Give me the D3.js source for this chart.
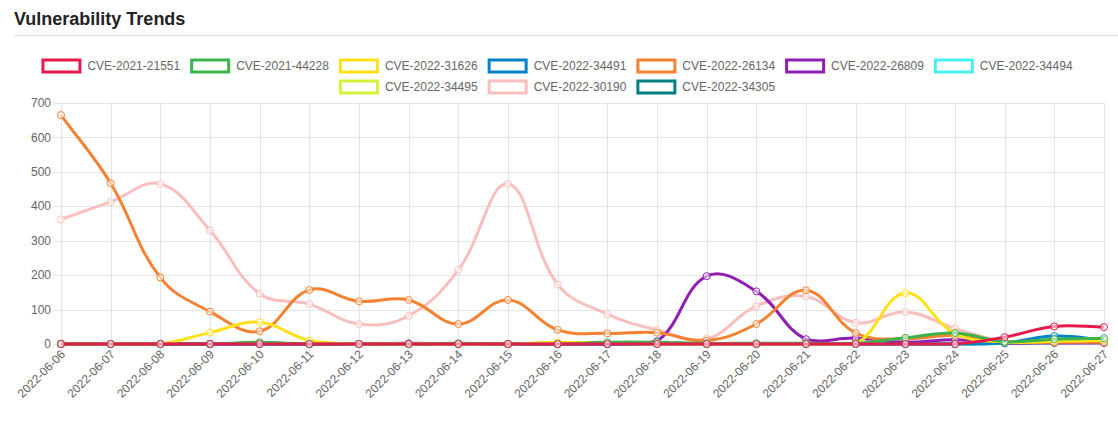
<!DOCTYPE html>
<html>
<head>
<meta charset="utf-8">
<script src="https://cdn.jsdelivr.net/npm/d3@7"></script>
<style>
html,body{margin:0;padding:0;background:#fff;}
svg{display:block;}
</style>
</head>
<body>
<svg id="chart" width="1118" height="428"></svg>
<script>
// ---- data ----
const dates = ["2022-06-06","2022-06-07","2022-06-08","2022-06-09","2022-06-10","2022-06-11","2022-06-12","2022-06-13","2022-06-14","2022-06-15","2022-06-16","2022-06-17","2022-06-18","2022-06-19","2022-06-20","2022-06-21","2022-06-22","2022-06-23","2022-06-24","2022-06-25","2022-06-26","2022-06-27"];
const seriesNames = ["CVE-2021-21551","CVE-2021-44228","CVE-2022-31626","CVE-2022-34491","CVE-2022-26134","CVE-2022-26809","CVE-2022-34494","CVE-2022-34495","CVE-2022-30190","CVE-2022-34305"];
const seriesColors = ["#e6194b","#3cb44b","#ffe119","#0082c8","#f58231","#911eb4","#46f0f0","#d2f53c","#fabebe","#008080"];
const cve_2021_21551 = [0,0,0,0,0,0,0,0,0,0,0,0,0,0,0,0,0,0,0,20,51,49];
const cve_2021_44228 = [0,0,0,0,5,0,0,0,2,0,0,5,5,2,2,2,2,18,32,7,14,17];
const cve_2022_31626 = [0,0,0,33,63,10,0,0,0,0,5,3,0,0,0,0,0,148,30,6,8,10];
const cve_2022_34491 = [0,0,0,0,0,0,0,0,0,0,0,0,0,0,0,0,0,0,0,3,23,12];
const cve_2022_26134 = [665,467,193,94,37,157,124,128,58,128,41,31,33,10,58,156,32,15,25,6,5,5];
const cve_2022_26809 = [0,0,0,0,0,0,0,2,0,0,0,0,8,197,153,14,17,5,12,3,3,3];
const cve_2022_34494 = [0,0,0,0,0,0,0,0,0,0,0,0,0,0,0,0,0,0,0,2,3,5];
const cve_2022_34495 = [0,0,0,0,0,0,0,0,0,0,0,0,0,0,0,0,0,0,0,2,4,8];
const cve_2022_30190 = [362,413,465,330,146,116,58,82,215,465,173,87,41,15,110,138,62,93,45,8,5,5];
const cve_2022_34305 = [0,0,0,0,0,0,0,0,0,0,0,0,0,0,0,0,0,0,0,2,5,10];
const seriesValues = [cve_2021_21551,cve_2021_44228,cve_2022_31626,cve_2022_34491,cve_2022_26134,cve_2022_26809,cve_2022_34494,cve_2022_34495,cve_2022_30190,cve_2022_34305];
const yTicks = [0,100,200,300,400,500,600,700];
const titleText = "Vulnerability Trends";

// ---- layout ----
const W = 1118, H = 428;
const area = {left:61, right:1104, top:103, bottom:344};
const FONT = "'Liberation Sans', Arial, Helvetica, sans-serif";
const svg = d3.select("#chart");

// title
svg.append("text").attr("x",14).attr("y",25)
  .attr("font-family",FONT).attr("font-weight","bold").attr("font-size","18px")
  .attr("fill","#222").text(titleText);
svg.append("line").attr("x1",14).attr("x2",W).attr("y1",35.5).attr("y2",35.5)
  .attr("stroke","#dedede").attr("stroke-width",1);

// scales
const x = d3.scalePoint().domain(dates).range([area.left, area.right]);
const y = d3.scaleLinear().domain([0,700]).range([area.bottom, area.top]);

// grid
const grid = svg.append("g");
grid.selectAll("line.h").data(yTicks).join("line")
  .attr("x1",area.left-8).attr("x2",area.right)
  .attr("y1",d=>Math.round(y(d))+0.5).attr("y2",d=>Math.round(y(d))+0.5)
  .attr("stroke","rgba(0,0,0,0.1)");
grid.selectAll("line.v").data(dates).join("line")
  .attr("y1",area.top).attr("y2",area.bottom+8)
  .attr("x1",d=>Math.round(x(d))+0.5).attr("x2",d=>Math.round(x(d))+0.5)
  .attr("stroke","rgba(0,0,0,0.1)");

// y labels
svg.append("g").selectAll("text").data(yTicks).join("text")
  .attr("x",area.left-10).attr("y",d=>y(d)).attr("dy","0.35em")
  .attr("text-anchor","end").attr("font-family",FONT).attr("font-size","12px")
  .attr("fill","#666").text(d=>d);

// x labels
svg.append("g").selectAll("text").data(dates).join("text")
  .attr("transform",d=>`translate(${x(d)+2},${area.bottom+8}) rotate(-45)`)
  .attr("dy","0.35em")
  .attr("text-anchor","end").attr("font-family",FONT).attr("font-size","12px")
  .attr("fill","#666").text(d=>d);

// Chart.js-like spline path
function splinePath(pts, t){
  const cps = pts.map((p,i)=>{
    const prev = pts[i-1]||p, next = pts[i+1]||p;
    const d01 = Math.hypot(p[0]-prev[0],p[1]-prev[1]);
    const d12 = Math.hypot(next[0]-p[0],next[1]-p[1]);
    let s01 = d01/(d01+d12), s12 = d12/(d01+d12);
    if(!isFinite(s01)) s01 = 0; if(!isFinite(s12)) s12 = 0;
    const fa = t*s01, fb = t*s12;
    const cap = (v,lo,hi)=>Math.max(Math.min(v,hi),lo);
    return {
      px: cap(p[0]-fa*(next[0]-prev[0]),area.left,area.right),
      py: cap(p[1]-fa*(next[1]-prev[1]),area.top,area.bottom),
      nx: cap(p[0]+fb*(next[0]-prev[0]),area.left,area.right),
      ny: cap(p[1]+fb*(next[1]-prev[1]),area.top,area.bottom)
    };
  });
  const path = d3.path();
  path.moveTo(pts[0][0],pts[0][1]);
  for(let i=1;i<pts.length;i++){
    path.bezierCurveTo(cps[i-1].nx,cps[i-1].ny,cps[i].px,cps[i].py,pts[i][0],pts[i][1]);
  }
  return path.toString();
}

// series (drawn in reverse so first dataset ends on top)
const order = d3.range(seriesNames.length).reverse();
const plot = svg.append("g");
order.forEach(si=>{
  const vals = seriesValues[si];
  const pts = vals.map((v,i)=>[x(dates[i]), y(v)]);
  const g = plot.append("g");
  g.append("path").attr("d",splinePath(pts,0.4))
    .attr("fill","none").attr("stroke",seriesColors[si]).attr("stroke-width",3);
  g.selectAll("circle").data(vals).join("circle")
    .attr("cx",(v,i)=>x(dates[i])).attr("cy",v=>y(v)).attr("r",3.5)
    .attr("fill","rgba(255,255,255,0.55)").attr("stroke",seriesColors[si]).attr("stroke-width",1);
});

// legend (centered rows, Chart.js style)
const boxW = 40, boxH = 12, pad = 10, fs = 12;
const measure = svg.append("text").attr("font-family",FONT).attr("font-size",fs+"px");
const widths = seriesNames.map(n=>{measure.text(n); return boxW + fs/2 + measure.node().getComputedTextLength();});
measure.remove();
const maxW = 1080;
const rows = [[]]; let cur = 0;
widths.forEach((w,i)=>{
  const add = (rows[rows.length-1].length? pad:0) + w;
  if(cur + add > maxW){ rows.push([]); cur = 0; }
  cur += (rows[rows.length-1].length? pad:0) + w;
  rows[rows.length-1].push(i);
});
const legend = svg.append("g");
const centerX = 557, rowY = [66, 87];
rows.forEach((r,ri)=>{
  const total = d3.sum(r,i=>widths[i]) + pad*(r.length-1);
  let lx = centerX - total/2;
  r.forEach(i=>{
    const cy = rowY[ri];
    legend.append("rect").attr("x",lx+1.5).attr("y",cy-boxH/2)
      .attr("width",boxW-3).attr("height",boxH)
      .attr("fill","#fff").attr("stroke",seriesColors[i]).attr("stroke-width",3);
    legend.append("text").attr("x",lx+boxW+fs/2).attr("y",cy).attr("dy","0.35em")
      .attr("font-family",FONT).attr("font-size",fs+"px").attr("fill","#666").text(seriesNames[i]);
    lx += widths[i] + pad;
  });
});
</script>
</body>
</html>
